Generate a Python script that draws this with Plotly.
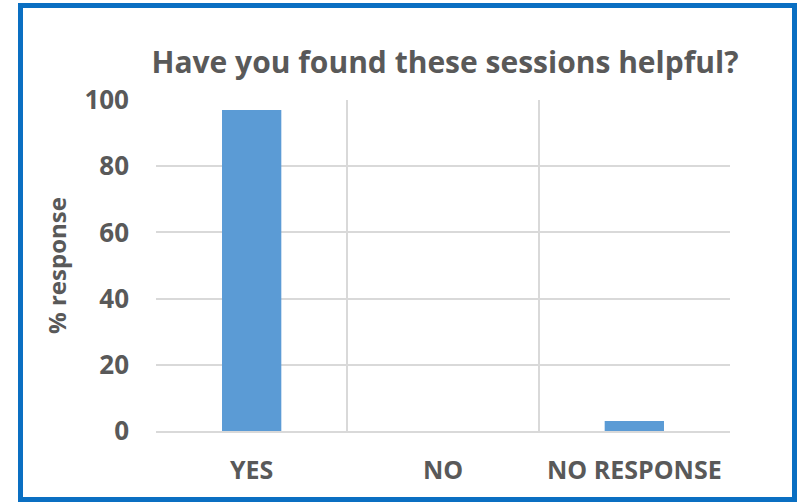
import plotly.graph_objects as go

categories = ["YES", "NO", "NO RESPONSE"]
values = [97, 0, 3]
y_ticks = [0, 20, 40, 60, 80, 100]

W, H = 801, 502
ML, MR, MT, MB = 156, 71, 100, 71
pw, ph = W - ML - MR, H - MT - MB

def px_x(x):
    return (x - ML) / pw

def px_y(y):
    return (H - MB - y) / ph

text_col = "#595959"
grid_col = "#d9d9d9"
font_fam = "Open Sans"

fig = go.Figure(go.Bar(x=categories, y=values, marker_color="#5b9bd5", width=0.31,
                       marker_line_width=0))

fig.update_layout(
    width=W, height=H,
    margin=dict(l=ML, r=MR, t=MT, b=MB),
    paper_bgcolor="white", plot_bgcolor="white",
    showlegend=False,
    title=dict(text="<b>Have you found these sessions helpful?</b>", x=445 / W, xanchor="center",
               y=1 - 62 / H, yanchor="middle",
               font=dict(family=font_fam, size=30, color=text_col)),
    xaxis=dict(type="category", tickson="boundaries", showgrid=True, gridcolor=grid_col,
               gridwidth=1.5, ticks="", showline=True, linecolor=grid_col, linewidth=1.5,
               tickfont=dict(family=font_fam, size=25, color=text_col, weight="bold"),
               ticklabelstandoff=16, range=[-0.5, 2.5]),
    yaxis=dict(range=[0, 100], tickvals=y_ticks, showgrid=True, gridcolor=grid_col, gridwidth=1.5,
               zeroline=False, ticks="",
               tickfont=dict(family=font_fam, size=26, color=text_col, weight="bold"),
               ticklabelstandoff=26,
               title=dict(text="<b>% response</b>", standoff=10,
                          font=dict(family=font_fam, size=24, color=text_col))),
    font=dict(family=font_fam, color=text_col),
)

fig.add_shape(type="rect", xref="paper", yref="paper",
              x0=px_x(20.5), x1=px_x(794.5), y0=px_y(499.5), y1=px_y(5.5),
              line=dict(color="#0a6fc2", width=5), fillcolor="rgba(0,0,0,0)", layer="above")

fig.write_html("out.html")
